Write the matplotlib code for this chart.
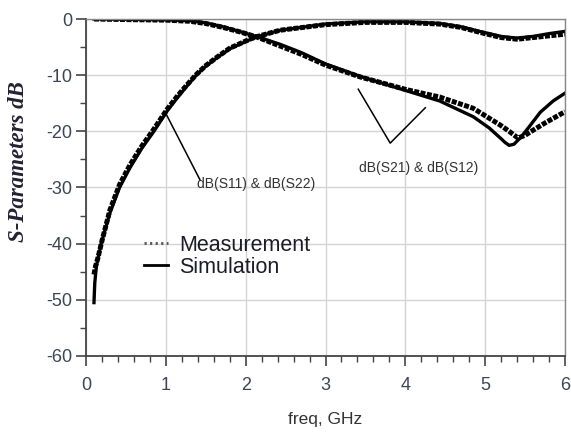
import numpy as np
import matplotlib
matplotlib.use("Agg")
import matplotlib.pyplot as plt
from matplotlib.lines import Line2D

plt.rcParams['font.family'] = ['Liberation Sans', 'DejaVu Sans']
plt.rcParams['axes.unicode_minus'] = False

# S11 / S22 (return loss), simulation
f_s11_sim = [0.10, 0.11, 0.13, 0.19, 0.30, 0.42, 0.55, 0.70, 0.85, 1.02, 1.14, 1.26,
             1.38, 1.50, 1.64, 1.80, 2.05, 2.15, 2.43, 3.00, 3.50, 4.00, 4.43, 4.70,
             4.94, 5.20, 5.39, 5.60, 5.80, 6.00]
s11_sim = [-50.5, -47.0, -44.0, -40.0, -34.5, -30.0, -26.5, -23.0, -20.0, -16.3, -14.1, -12.0,
           -10.0, -8.4, -6.9, -5.3, -3.7, -3.15, -2.0, -0.9, -0.5, -0.5, -0.8, -1.4,
           -2.25, -3.1, -3.4, -3.1, -2.6, -2.2]

# S11 / S22, measurement
f_s11_meas = [0.10, 0.12, 0.15, 0.20, 0.30, 0.42, 0.55, 0.70, 0.85, 1.02, 1.14, 1.26,
              1.38, 1.50, 1.64, 1.80, 2.05, 2.15, 2.43, 3.00, 3.50, 4.00, 4.43, 4.70,
              4.94, 5.20, 5.40, 5.60, 5.80, 6.00]
s11_meas = [-45.5, -44.0, -42.5, -39.5, -34.0, -29.5, -26.0, -22.6, -19.6, -16.0, -13.8, -11.8,
            -9.9, -8.3, -6.8, -5.2, -3.6, -3.1, -2.0, -1.0, -0.6, -0.6, -0.9, -1.5,
            -2.4, -3.3, -3.6, -3.3, -3.0, -2.7]

# S21 / S12 (insertion loss), simulation
f_s21_sim = [0.10, 0.50, 1.00, 1.30, 1.50, 1.72, 1.93, 2.14, 2.43, 2.70, 3.00, 3.43,
             4.02, 4.43, 4.85, 5.05, 5.19, 5.25, 5.30, 5.36, 5.45, 5.55, 5.69, 5.85, 6.00]
s21_sim = [0.0, -0.05, -0.15, -0.3, -0.7, -1.4, -2.25, -3.15, -4.5, -6.0, -8.0, -10.2,
           -12.8, -14.6, -17.4, -19.4, -21.2, -22.0, -22.5, -22.3, -21.0, -19.2, -16.6, -14.6, -13.2]

# S21 / S12, measurement
f_s21_meas = [0.10, 0.50, 1.00, 1.30, 1.50, 1.72, 1.93, 2.14, 2.43, 2.70, 3.00, 3.43,
              4.02, 4.43, 4.85, 5.19, 5.30, 5.41, 5.50, 5.60, 5.75, 6.00]
s21_meas = [0.0, -0.1, -0.2, -0.4, -0.8, -1.5, -2.3, -3.2, -4.8, -6.3, -8.2, -10.3,
            -12.6, -13.9, -15.9, -18.9, -20.0, -21.2, -20.7, -19.8, -18.5, -16.5]

fig = plt.figure(figsize=(5.71, 4.32), dpi=100)
ax = fig.add_axes([0.1506, 0.176, 0.839, 0.780])

meas_style = dict(color='black', lw=3.6, linestyle=(0, (1.0, 0.3)))
sim_style = dict(color='black', lw=2.4)

ax.plot(f_s11_meas, s11_meas, **meas_style)
ax.plot(f_s21_meas, s21_meas, **meas_style)
ax.plot(f_s11_sim, s11_sim, **sim_style)
ax.plot(f_s21_sim, s21_sim, **sim_style)

# annotation pointers
ax.plot([1.01, 1.43], [-17.1, -28.7], color='black', lw=1.1)
ax.plot([3.41, 3.81, 4.25], [-12.5, -22.1, -15.8], color='black', lw=1.1)
ax.text(1.39, -29.4, "dB(S11) & dB(S22)", fontsize=10, color='#333333', va='center', ha='left')
ax.text(4.17, -26.5, "dB(S21) & dB(S12)", fontsize=10, color='#333333', va='center', ha='center')

ax.set_xlim(0, 6)
ax.set_ylim(-60, 0)
ax.set_xticks(range(0, 7))
ax.set_yticks(range(-60, 1, 10))
ax.set_xticks(np.arange(0, 6.01, 0.2), minor=True)
ax.set_yticks(range(-55, 0, 10), minor=True)

ax.grid(True, which='major', color='#d4d4d4', lw=1.0)
ax.set_axisbelow(True)
ax.tick_params(which='major', length=7, width=1.2, color='#444444', labelsize=13,
               labelcolor='#3a4656')
ax.tick_params(axis='x', which='major', pad=8)
ax.tick_params(axis='y', which='major', pad=3)
ax.tick_params(which='minor', length=4, width=1.0, color='#444444')

for s in ['left', 'bottom']:
    ax.spines[s].set_color('#444444')
    ax.spines[s].set_linewidth(1.3)
for s in ['top', 'right']:
    ax.spines[s].set_color('#888888')
    ax.spines[s].set_linewidth(1.0)

ax.set_xlabel("freq, GHz", fontsize=12.5, color='#333333')
ax.xaxis.set_label_coords(0.5, -0.165)
ax.set_ylabel("S-Parameters dB", fontsize=16.5, fontweight='bold', fontstyle='italic',
              family='Liberation Serif', color='#222233')
ax.yaxis.set_label_coords(-0.118, 0.576)

handles = [Line2D([], [], color='#555555', lw=2.0, linestyle=(0, (0.8, 1.2))),
           Line2D([], [], color='black', lw=2.0)]
leg = ax.legend(handles, ["Measurement", "Simulation"], loc='upper left',
                bbox_to_anchor=(0.122, 0.36), frameon=False, fontsize=15.5,
                handlelength=1.1, handletextpad=0.5, labelspacing=0.05,
                borderaxespad=0, borderpad=0)
for t in leg.get_texts():
    t.set_color('#1c1c28')

fig.savefig("out.png", dpi=100)
